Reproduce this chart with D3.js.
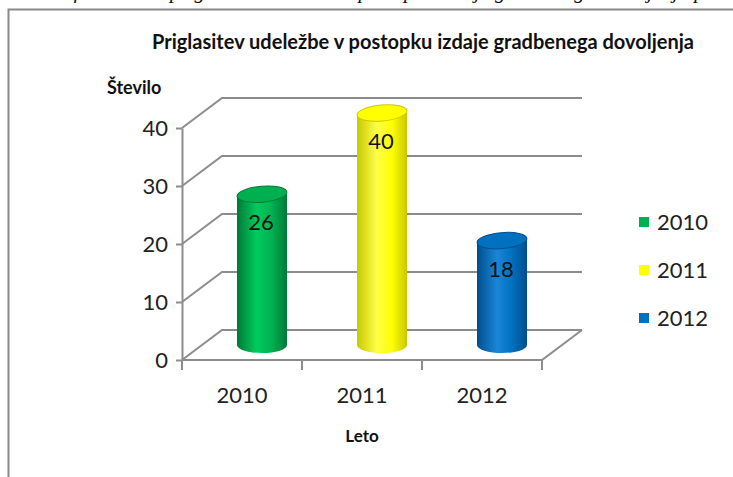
<!DOCTYPE html>
<html>
<head>
<meta charset="utf-8">
<script src="https://cdn.jsdelivr.net/npm/d3@7"></script>
<style>
  body { margin: 0; background: #fff; }
  svg { display: block; }
</style>
</head>
<body>
<div id="chart"></div>
<script>
var categories = ["2010", "2011", "2012"];
var values = [26, 40, 18];
var barColors = ["#00b050", "#ffff00", "#0070c0"];
var darkColors = ["#007a36", "#c8c800", "#004f8c"];
var lightColors = ["#00cc5e", "#ffff4a", "#1a86d6"];
var yTicks = [0, 10, 20, 30, 40];
var chartTitle = "Priglasitev udeležbe v postopku izdaje gradbenega dovoljenja";
var yTitle = "Število";
var xTitle = "Leto";
var captionAbove = "Graf 1: Število priglasitev udeležbe v postopku izdaje gradbenega dovoljenja po letih";

function plotCylinders(containerId) {
    var WIDTH = 733;
    var HEIGHT = 477;
    var DEPTH = {x: 40, y: -30};
    var FONT = "Lato, 'Open Sans', sans-serif";
    var GRID = "#8c8c8c";

    var svg = d3.select("#" + containerId).append("svg")
        .attr("width", WIDTH)
        .attr("height", HEIGHT);

    var defs = svg.append("defs");

    // cut off caption line of the surrounding document (only descenders show)
    svg.append("text")
        .attr("x", 40)
        .attr("y", -2)
        .style("font-family", "'Liberation Serif', serif")
        .style("font-style", "italic")
        .style("font-size", "21px")
        .style("fill", "#111")
        .text(captionAbove);

    // chart frame
    svg.append("rect")
        .attr("x", 8.5)
        .attr("y", 9.5)
        .attr("width", 800)
        .attr("height", 600)
        .style("fill", "#fff")
        .style("stroke", "#8a8a8a")
        .style("stroke-width", 2);

    var xScale = d3.scaleBand().domain(categories).range([182, 542]);
    var yScale = d3.scaleLinear().domain([0, 40]).range([360, 128]);

    // side wall + back wall gridlines
    var grid = svg.append("g");
    yTicks.forEach(function(v) {
        var y = yScale(v);
        grid.append("path")
            .attr("d", "M182," + y + "L" + (182 + DEPTH.x) + "," + (y + DEPTH.y) +
                       "L" + (542 + DEPTH.x) + "," + (y + DEPTH.y))
            .style("fill", "none")
            .style("stroke", GRID)
            .style("stroke-width", 2);
    });
    // floor
    grid.append("path")
        .attr("d", "M182," + yScale(0) + "L542," + yScale(0) +
                   "L" + (542 + DEPTH.x) + "," + (yScale(0) + DEPTH.y))
        .style("fill", "none")
        .style("stroke", GRID)
        .style("stroke-width", 2);

    // y axis
    var yAxis = d3.axisLeft(yScale).tickValues(yTicks).tickSize(6).tickSizeOuter(0).tickPadding(8);
    var ya = svg.append("g")
        .attr("transform", "translate(182,0)")
        .call(yAxis);
    ya.select(".domain").style("stroke", GRID).style("stroke-width", 2);
    ya.selectAll(".tick line").style("stroke", GRID).style("stroke-width", 2);
    ya.selectAll(".tick text")
        .style("font-family", FONT)
        .style("font-size", "22px")
        .style("fill", "#222");

    // x axis: ticks between categories, labels at centers
    var xa = svg.append("g")
        .attr("transform", "translate(0," + yScale(0) + ")");
    var edges = categories.map(function(c) { return xScale(c); }).concat([xScale.range()[1]]);
    xa.selectAll("line")
        .data(edges)
        .enter().append("line")
        .attr("x1", function(d) { return d; })
        .attr("x2", function(d) { return d; })
        .attr("y1", 0)
        .attr("y2", 10)
        .style("stroke", GRID)
        .style("stroke-width", 2);
    xa.selectAll("text")
        .data(categories)
        .enter().append("text")
        .attr("x", function(d) { return xScale(d) + xScale.bandwidth() / 2; })
        .attr("y", 43)
        .attr("text-anchor", "middle")
        .style("font-family", FONT)
        .style("font-size", "22px")
        .style("fill", "#222")
        .text(function(d) { return d; });

    // cylinders
    var RX = 25, RY = 8;
    categories.forEach(function(c, i) {
        var g = defs.append("linearGradient")
            .attr("id", "body" + i)
            .attr("x1", "0").attr("x2", "1").attr("y1", "0").attr("y2", "0");
        g.append("stop").attr("offset", "0%").attr("stop-color", darkColors[i]);
        g.append("stop").attr("offset", "40%").attr("stop-color", lightColors[i]);
        g.append("stop").attr("offset", "70%").attr("stop-color", barColors[i]);
        g.append("stop").attr("offset", "100%").attr("stop-color", darkColors[i]);
    });

    var bars = svg.append("g")
        .selectAll("g")
        .data(values)
        .enter().append("g");

    function cx(d, i) { return xScale(categories[i]) + xScale.bandwidth() / 2 + DEPTH.x / 2; }
    function yBase() { return yScale(0) + DEPTH.y / 2; }
    function yTop(d) { return yScale(d) + DEPTH.y / 2; }

    bars.append("path")
        .attr("d", function(d, i) {
            var x0 = cx(d, i) - RX, x1 = cx(d, i) + RX;
            return "M" + x0 + "," + yTop(d) + "L" + x0 + "," + yBase() +
                   "A" + RX + "," + RY + " 0 0 0 " + x1 + "," + yBase() +
                   "L" + x1 + "," + yTop(d) + "Z";
        })
        .style("fill", function(d, i) { return "url(#body" + i + ")"; });

    bars.append("ellipse")
        .attr("cx", function(d, i) { return cx(d, i); })
        .attr("cy", function(d) { return yTop(d); })
        .attr("rx", RX)
        .attr("ry", RY)
        .attr("transform", function(d, i) { return "rotate(-5," + cx(d, i) + "," + yTop(d) + ")"; })
        .style("fill", function(d, i) { return barColors[i]; })
        .style("stroke", function(d, i) { return darkColors[i]; })
        .style("stroke-width", 1);

    bars.append("text")
        .attr("x", function(d, i) { return cx(d, i) - 1; })
        .attr("y", function(d) { return yTop(d) + 36; })
        .attr("text-anchor", "middle")
        .style("font-family", FONT)
        .style("font-size", "22px")
        .style("fill", "#111")
        .text(function(d) { return d; });

    // titles
    svg.append("text")
        .attr("x", 423)
        .attr("y", 49)
        .attr("text-anchor", "middle")
        .style("font-family", FONT)
        .style("font-weight", "bold")
        .style("font-size", "20px")
        .style("fill", "#111")
        .text(chartTitle);

    svg.append("text")
        .attr("x", 107)
        .attr("y", 94)
        .style("font-family", FONT)
        .style("font-weight", "bold")
        .style("font-size", "18px")
        .style("fill", "#111")
        .text(yTitle);

    svg.append("text")
        .attr("x", 362)
        .attr("y", 442)
        .attr("text-anchor", "middle")
        .style("font-family", FONT)
        .style("font-weight", "bold")
        .style("font-size", "17px")
        .style("fill", "#111")
        .text(xTitle);

    // legend
    var legend = svg.append("g")
        .selectAll("g")
        .data(categories)
        .enter().append("g")
        .attr("transform", function(d, i) { return "translate(639," + (222 + i * 48) + ")"; });
    legend.append("rect")
        .attr("x", 0).attr("y", -5)
        .attr("width", 10).attr("height", 10)
        .style("fill", function(d, i) { return barColors[i]; });
    legend.append("text")
        .attr("x", 18)
        .attr("y", 8)
        .style("font-family", FONT)
        .style("font-size", "22px")
        .style("fill", "#222")
        .text(function(d) { return d; });
}

plotCylinders("chart");
</script>
</body>
</html>
